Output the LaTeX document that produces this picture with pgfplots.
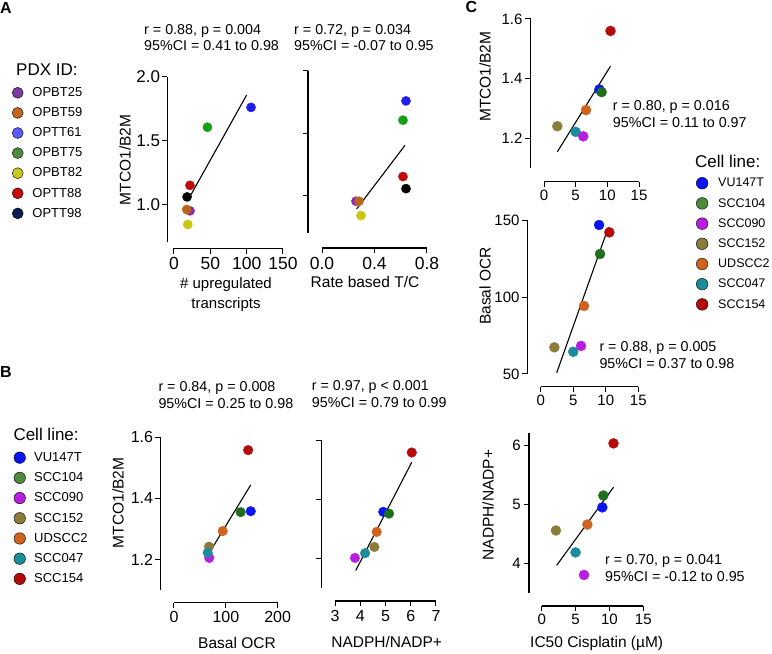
\documentclass[border=0pt]{standalone}
\usepackage{pgfplots}
\pgfplotsset{compat=1.18}
\usepackage{fontspec}
\setmainfont{Liberation Sans}
% plot colours
\definecolor{aPur}{HTML}{8C28B4}
\definecolor{aBrn}{HTML}{B8661E}
\definecolor{aBlu}{HTML}{1E1EF0}
\definecolor{aGrn}{HTML}{14A014}
\definecolor{aYel}{HTML}{C8C814}
\definecolor{aRed}{HTML}{C00A0A}
\definecolor{aBlk}{HTML}{000000}
% legend A colours
\definecolor{laPur}{HTML}{7A3CA0}
\definecolor{laBrn}{HTML}{C0661E}
\definecolor{laBlu}{HTML}{5A5AFF}
\definecolor{laGrn}{HTML}{4C8A3C}
\definecolor{laYel}{HTML}{C8C81E}
\definecolor{laRed}{HTML}{C80A0A}
\definecolor{laNav}{HTML}{0A1E50}
% cell line colours
\definecolor{cBlu}{HTML}{0A14F0}
\definecolor{cGrn}{HTML}{1E6E1E}
\definecolor{cLGrn}{HTML}{4C8A3C}
\definecolor{cMag}{HTML}{B81EE0}
\definecolor{cOli}{HTML}{8C7C3C}
\definecolor{cOra}{HTML}{D0641E}
\definecolor{cTea}{HTML}{1A8C9A}
\definecolor{cRed}{HTML}{B40A0A}
\newcommand{\fs}[1]{\fontsize{#1}{#1}\selectfont}
\newcommand{\pdot}[4]{\addplot[only marks, mark=*, mark size=#4, color=#1, forget plot] coordinates {(#2,#3)};}
\newcommand{\rline}[4]{\addplot[black, line width=1.1pt, forget plot] coordinates {(#1,#2) (#3,#4)};}
\pgfplotsset{prism/.style={scale only axis, axis lines*=left, separate axis lines, clip=false,
  enlargelimits=false, anchor=south west,
  axis line style={line width=1.1pt, black}, tick align=outside, major tick length=5.5pt,
  tick style={line width=1pt, black},
  /pgf/number format/assume math mode=true},
  onedec/.style={yticklabel style={/pgf/number format/fixed, /pgf/number format/fixed zerofill, /pgf/number format/precision=1}},
  leg/.style={legend cell align=left,
    legend image code/.code={\fill[##1] (0pt,0pt) circle (#1);}},
}
\begin{document}
\begin{tikzpicture}[x=1pt,y=1pt]
\path[use as bounding box] (0,0) rectangle (772,654);
% ================= Panel A, plot 1
\begin{axis}[prism, onedec, leg=5.5pt, at={(174pt,411.6pt)}, width=109pt, height=165.6pt,
  xmin=0, xmax=150, ymin=0.7, ymax=2.0, xtick={0,50,100,150}, ytick={1.0,1.5,2.0},
  xticklabel style={font=\fs{17.5}}, yticklabel style={font=\fs{17}, inner sep=1.5pt},
  axis x line shift=6pt, axis y line shift=6.7pt,
  legend style={at={(-1.488,0.939)}, anchor=north west, draw=none, fill=none, inner sep=0pt,
    row sep=8.7pt, font=\fs{13}, nodes={inner sep=0pt},
    /tikz/every odd column/.append style={column sep=9pt}}]
\addlegendimage{fill=laPur}\addlegendentry{OPBT25}
\addlegendimage{fill=laBrn}\addlegendentry{OPBT59}
\addlegendimage{fill=laBlu}\addlegendentry{OPTT61}
\addlegendimage{fill=laGrn}\addlegendentry{OPBT75}
\addlegendimage{fill=laYel}\addlegendentry{OPBT82}
\addlegendimage{fill=laRed}\addlegendentry{OPTT88}
\addlegendimage{fill=laNav}\addlegendentry{OPTT98}
\rline{20}{1.04}{100}{1.857}
\pdot{aPur}{22}{0.948}{4.6pt}
\pdot{aBrn}{17.5}{0.958}{4.6pt}
\pdot{aYel}{19}{0.841}{4.6pt}
\pdot{aRed}{22}{1.148}{4.6pt}
\pdot{aBlk}{18}{1.057}{4.6pt}
\pdot{aGrn}{46}{1.604}{4.6pt}
\pdot{aBlu}{106}{1.76}{4.6pt}
\end{axis}
% ================= Panel A, plot 2
\begin{axis}[prism, at={(322pt,421pt)}, width=105pt, height=162pt,
  xmin=0, xmax=0.8, ymin=0.7, ymax=2.0, xtick={0,0.4,0.8}, ytick={1.0,1.5,2.0}, yticklabels={},
  xticklabel style={/pgf/number format/fixed, /pgf/number format/fixed zerofill, /pgf/number format/precision=1},
  tick label style={font=\fs{17.5}},
  axis x line shift=15pt, axis y line shift=14pt]
\rline{0.264}{0.893}{0.632}{1.403}
\pdot{aPur}{0.259}{0.955}{4.6pt}
\pdot{aBrn}{0.282}{0.955}{4.6pt}
\pdot{aYel}{0.297}{0.84}{4.6pt}
\pdot{aRed}{0.617}{1.153}{4.6pt}
\pdot{aBlk}{0.64}{1.056}{4.6pt}
\pdot{aGrn}{0.617}{1.605}{4.6pt}
\pdot{aBlu}{0.64}{1.76}{4.6pt}
\end{axis}
% ================= Panel B, plot 1
\begin{axis}[prism, leg=5.75pt, at={(174pt,64pt)}, width=103.7pt, height=152.7pt,
  xmin=0, xmax=200, ymin=1.1, ymax=1.6, xtick={0,100,200}, ytick={1.2,1.4,1.6},
  yticklabel style={/pgf/number format/fixed, /pgf/number format/precision=1, inner sep=2pt},
  tick label style={font=\fs{16}},
  axis x line shift=12.7pt, axis y line shift=13.3pt,
  legend style={at={(-1.547,0.907)}, anchor=north west, draw=none, fill=none, inner sep=0pt,
    row sep=8.3pt, font=\fs{13}, nodes={inner sep=0pt},
    /tikz/every odd column/.append style={column sep=8.5pt}}]
\addlegendimage{fill=cBlu}\addlegendentry{VU147T}
\addlegendimage{fill=cLGrn}\addlegendentry{SCC104}
\addlegendimage{fill=cMag}\addlegendentry{SCC090}
\addlegendimage{fill=cOli}\addlegendentry{SCC152}
\addlegendimage{fill=cOra}\addlegendentry{UDSCC2}
\addlegendimage{fill=cTea}\addlegendentry{SCC047}
\addlegendimage{fill=cRed}\addlegendentry{SCC154}
\rline{73.9}{1.238}{148}{1.444}
\pdot{cMag}{68}{1.205}{4.8pt}
\pdot{cOli}{67.5}{1.242}{4.8pt}
\pdot{cTea}{65}{1.222}{4.8pt}
\pdot{cOra}{94}{1.293}{4.8pt}
\pdot{cGrn}{128.6}{1.355}{4.8pt}
\pdot{cBlu}{148}{1.358}{4.8pt}
\pdot{cRed}{143}{1.558}{4.8pt}
\end{axis}
% ================= Panel B, plot 2
\begin{axis}[prism, at={(335pt,65.7pt)}, width=101pt, height=147.6pt,
  xmin=3, xmax=7, ymin=1.1, ymax=1.6, xtick={3,4,5,6,7}, ytick={1.2,1.4,1.6}, yticklabels={},
  tick label style={font=\fs{16}},
  axis x line shift=12.7pt, axis y line shift=13.3pt]
\rline{3.82}{1.16}{6.04}{1.527}
\pdot{cMag}{3.79}{1.203}{4.8pt}
\pdot{cTea}{4.19}{1.219}{4.8pt}
\pdot{cOli}{4.56}{1.24}{4.8pt}
\pdot{cOra}{4.65}{1.291}{4.8pt}
\pdot{cBlu}{4.91}{1.359}{4.8pt}
\pdot{cGrn}{5.14}{1.353}{4.8pt}
\pdot{cRed}{6.04}{1.56}{4.8pt}
\end{axis}
% ================= Panel C, plot 1
\begin{axis}[prism, leg=5.85pt, at={(544pt,485.7pt)}, width=95pt, height=149.3pt,
  xmin=0, xmax=15, ymin=1.1, ymax=1.6, xtick={0,5,10,15}, ytick={1.2,1.4,1.6},
  yticklabel style={/pgf/number format/fixed, /pgf/number format/precision=1},
  tick label style={font=\fs{15}, inner sep=2.5pt},
  axis x line shift=13.4pt, axis y line shift=13.3pt,
  legend style={at={(1.599,-0.058)}, anchor=north west, draw=none, fill=none, inner sep=0pt,
    row sep=8.1pt, font=\fs{12.5}, nodes={inner sep=0pt},
    /tikz/every odd column/.append style={column sep=10pt}}]
\addlegendimage{fill=cBlu}\addlegendentry{VU147T}
\addlegendimage{fill=cLGrn}\addlegendentry{SCC104}
\addlegendimage{fill=cMag}\addlegendentry{SCC090}
\addlegendimage{fill=cOli}\addlegendentry{SCC152}
\addlegendimage{fill=cOra}\addlegendentry{UDSCC2}
\addlegendimage{fill=cTea}\addlegendentry{SCC047}
\addlegendimage{fill=cRed}\addlegendentry{SCC154}
\rline{2.1}{1.155}{10.5}{1.442}
\pdot{cOli}{2.1}{1.241}{5pt}
\pdot{cTea}{5.0}{1.222}{5pt}
\pdot{cMag}{6.2}{1.207}{5pt}
\pdot{cOra}{6.63}{1.295}{5pt}
\pdot{cBlu}{8.74}{1.364}{5pt}
\pdot{cGrn}{9.1}{1.355}{5pt}
\pdot{cRed}{10.5}{1.56}{5pt}
\end{axis}
% ================= Panel C, plot 2
\begin{axis}[prism, at={(540.7pt,280pt)}, width=97.6pt, height=153.3pt,
  xmin=0, xmax=15, ymin=50, ymax=150, xtick={0,5,10,15}, ytick={50,100,150},
  tick label style={font=\fs{15}, inner sep=2.5pt},
  axis x line shift=12.7pt, axis y line shift=13pt]
\rline{2.46}{50.8}{10.4}{145.7}
\pdot{cOli}{2.1}{67.4}{5pt}
\pdot{cTea}{5.0}{64.5}{5pt}
\pdot{cMag}{6.2}{68.3}{5pt}
\pdot{cOra}{6.66}{94.4}{5pt}
\pdot{cGrn}{9.12}{128.3}{5pt}
\pdot{cBlu}{8.97}{147.2}{5pt}
\pdot{cRed}{10.55}{142.4}{5pt}
\end{axis}
% ================= Panel C, plot 3
\begin{axis}[prism, at={(541.7pt,60.7pt)}, width=101.6pt, height=160pt,
  xmin=0, xmax=15, ymin=3.5, ymax=6.2, xtick={0,5,10,15}, ytick={4,5,6},
  tick label style={font=\fs{15}, inner sep=2.5pt},
  axis x line shift=12.7pt, axis y line shift=12.7pt]
\rline{2.2}{3.97}{10.6}{5.29}
\pdot{cOli}{2.1}{4.56}{5pt}
\pdot{cTea}{5.0}{4.19}{5pt}
\pdot{cMag}{6.25}{3.81}{5pt}
\pdot{cOra}{6.74}{4.66}{5pt}
\pdot{cBlu}{8.95}{4.95}{5pt}
\pdot{cGrn}{9.1}{5.15}{5pt}
\pdot{cRed}{10.6}{6.03}{5pt}
\end{axis}
% ================= Text
\node[font=\bfseries\fs{16}] at (6,646) {A};
\node[font=\bfseries\fs{16}] at (6,282) {B};
\node[font=\bfseries\fs{16}] at (471.5,647) {C};
\node[anchor=west, inner sep=0pt, font=\fs{17}] at (16,584) {PDX ID:};
\node[anchor=west, inner sep=0pt, font=\fs{17}] at (13.3,219.7) {Cell line:};
\node[anchor=west, inner sep=0pt, font=\fs{17}] at (695,493) {Cell line:};
\begin{scope}[every node/.style={anchor=west, align=left, inner sep=0pt, font=\fontsize{14.3}{16}\selectfont}]
\node at (144,616.7) {r = 0.88, p = 0.004\\95\%CI = 0.41 to 0.98};
\node at (294,616.7) {r = 0.72, p = 0.034\\95\%CI = -0.07 to 0.95};
\end{scope}
\begin{scope}[every node/.style={anchor=west, align=left, inner sep=0pt, font=\fontsize{14.3}{17}\selectfont}]
\node at (158.3,258.7) {r = 0.84, p = 0.008\\95\%CI = 0.25 to 0.98};
\node at (311.7,259.5) {r = 0.97, p < 0.001\\95\%CI = 0.79 to 0.99};
\node at (612.7,539.7) {r = 0.80, p = 0.016\\95\%CI = 0.11 to 0.97};
\node at (599.3,299.3) {r = 0.88, p = 0.005\\95\%CI = 0.37 to 0.98};
\node at (605,85.7) {r = 0.70, p = 0.041\\95\%CI = -0.12 to 0.95};
\end{scope}
\begin{scope}[every node/.style={font=\fs{15.5}}]
\node[rotate=90] at (125,494) {MTCO1/B2M};
\node[align=center, font=\fontsize{15}{19.5}\selectfont] at (226,359.5) {\# upregulated\\transcripts};
\node at (365,372.3) {Rate based T/C};
\node[rotate=90] at (118,151) {MTCO1/B2M};
\node at (237,11) {Basal OCR};
\node at (386.7,12.3) {NADPH/NADP+};
\node[rotate=90] at (485,577.3) {MTCO1/B2M};
\node[rotate=90] at (485,368) {Basal OCR};
\node[rotate=90] at (488,149) {NADPH/NADP+};
\node at (596.7,11) {IC50 Cisplatin (µM)};
\end{scope}
\end{tikzpicture}
\end{document}
